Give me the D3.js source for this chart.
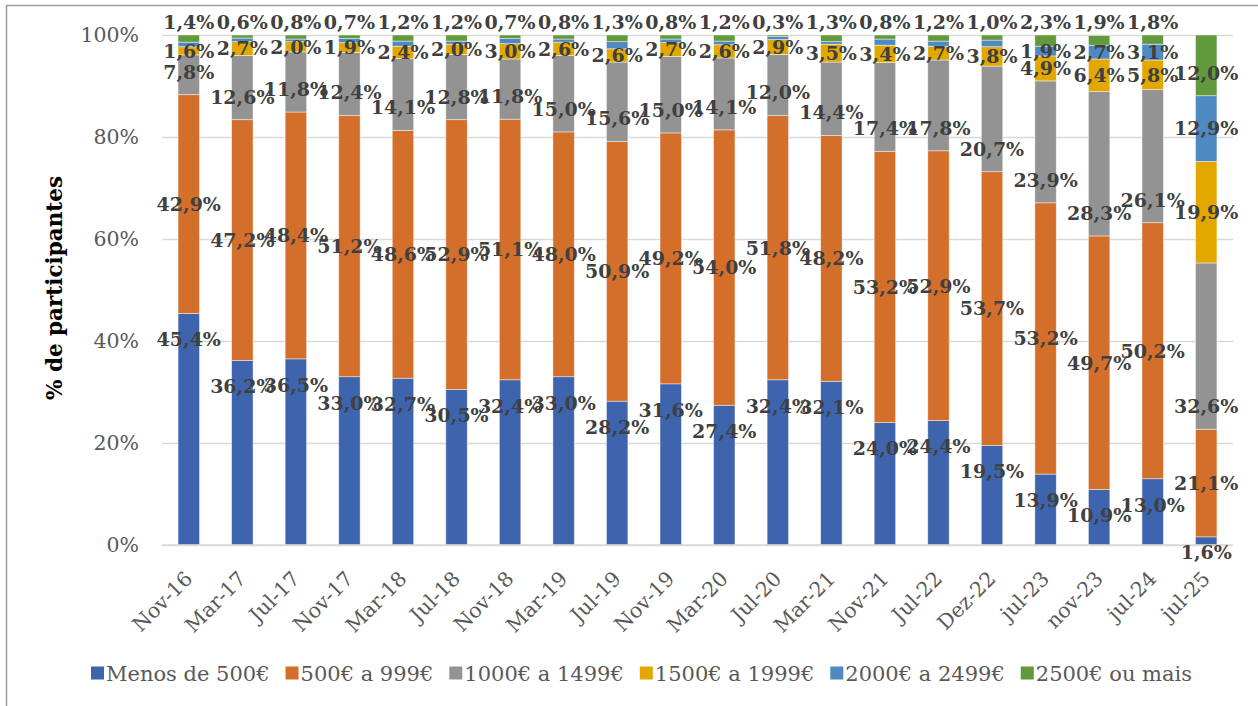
<!DOCTYPE html>
<html>
<head>
<meta charset="utf-8">
<script src="https://cdn.jsdelivr.net/npm/d3@7"></script>
<style>
  html, body { margin: 0; padding: 0; background: #fff; }
  svg { display: block; }
</style>
</head>
<body>
<svg id="chart" width="1258" height="706"></svg>
<script>
// ---- data ----
const categories = ["Nov-16","Mar-17","Jul-17","Nov-17","Mar-18","Jul-18","Nov-18","Mar-19","Jul-19","Nov-19","Mar-20","Jul-20","Mar-21","Nov-21","Jul-22","Dez-22","jul-23","nov-23","jul-24","jul-25"];
const seriesNames = ["Menos de 500€","500€ a 999€","1000€ a 1499€","1500€ a 1999€","2000€ a 2499€","2500€ ou mais"];
const menos500   = [45.4,36.2,36.5,33.0,32.7,30.5,32.4,33.0,28.2,31.6,27.4,32.4,32.1,24.0,24.4,19.5,13.9,10.9,13.0,1.6];
const de500a999  = [42.9,47.2,48.4,51.2,48.6,52.9,51.1,48.0,50.9,49.2,54.0,51.8,48.2,53.2,52.9,53.7,53.2,49.7,50.2,21.1];
const de1000a1499= [7.8,12.6,11.8,12.4,14.1,12.8,11.8,15.0,15.6,15.0,14.1,12.0,14.4,17.4,17.8,20.7,23.9,28.3,26.1,32.6];
const de1500a1999= [1.6,2.7,2.0,1.9,2.4,2.0,3.0,2.6,2.6,2.7,2.6,2.9,3.5,3.4,2.7,3.8,4.9,6.4,5.8,19.9];
const de2000a2499= [0.9,0.7,0.5,0.8,1.0,0.6,1.0,0.6,1.4,0.7,0.7,0.6,0.5,1.2,1.0,1.3,1.9,2.7,3.1,12.9];
const mais2500   = [1.4,0.6,0.8,0.7,1.2,1.2,0.7,0.8,1.3,0.8,1.2,0.3,1.3,0.8,1.2,1.0,2.3,1.9,1.8,12.0];
const yTicks = [0,20,40,60,80,100];

const seriesValues = [menos500, de500a999, de1000a1499, de1500a1999, de2000a2499, mais2500];
const colors = ["#3D64AD","#D36F2B","#939393","#E2A800","#4F89C1","#62993D"];

// ---- layout ----
const svg = d3.select("#chart");
const plot = {left: 162, right: 1233, top: 35, bottom: 545};
const serif = "'DejaVu Serif', 'Liberation Serif', serif";

// outer chart border
svg.append("rect")
  .attr("x", 6.5).attr("y", 5.5).attr("width", 1270).attr("height", 720)
  .attr("fill", "none").attr("stroke", "#9c9c9c").attr("stroke-width", 1.5);

const x = d3.scaleBand().domain(categories).range([plot.left, plot.right])
  .paddingInner(0.6).paddingOuter(0.3);
const y = d3.scaleLinear().domain([0, 100]).range([plot.bottom, plot.top]);

// table for stacking
const table = categories.map((c, i) => {
  const row = {cat: c};
  seriesNames.forEach((s, k) => row[s] = seriesValues[k][i]);
  return row;
});
const stacked = d3.stack().keys(seriesNames)(table);

// gridlines + y axis labels
const yAxis = d3.axisLeft(y).tickValues(yTicks).tickFormat(d => d + "%")
  .tickSize(-(plot.right - plot.left)).tickPadding(23);
const gy = svg.append("g").attr("transform", `translate(${plot.left},0)`).call(yAxis);
gy.select(".domain").remove();
gy.selectAll(".tick line").attr("stroke", "#D9D9D9").attr("stroke-width", 1.5);
gy.selectAll(".tick text").attr("fill", "#595959")
  .style("font-family", serif).style("font-size", "20.5px");

// bars
const layers = svg.append("g").selectAll("g").data(stacked).join("g")
  .attr("fill", (d, k) => colors[k]);
layers.selectAll("rect").data(d => d).join("rect")
  .attr("x", d => x(d.data.cat))
  .attr("width", x.bandwidth())
  .attr("y", d => y(Math.min(d[1], 100)))
  .attr("height", d => Math.max(0, y(d[0]) - y(Math.min(d[1], 100))))
  .attr("stroke", "#ffffff").attr("stroke-width", 0.8).attr("stroke-opacity", 0.55);

// x axis line
svg.append("line").attr("x1", plot.left).attr("x2", plot.right)
  .attr("y1", y(0)).attr("y2", y(0)).attr("stroke", "#D9D9D9").attr("stroke-width", 1.5);

// x tick labels
svg.append("g").selectAll("text").data(categories).join("text")
  .attr("transform", d => `translate(${x(d) + x.bandwidth()/2 + 5},${y(0) + 35}) rotate(-45)`)
  .attr("text-anchor", "end")
  .attr("fill", "#595959")
  .style("font-family", serif).style("font-size", "20.5px")
  .text(d => d);

// data labels
const fmt = v => d3.format(".1f")(v).replace(".", ",") + "%";
function labelY(k, d) {
  const top = y(Math.min(d[1], 100)), bot = y(d[0]), mid = (top + bot) / 2;
  const v = d[1] - d[0];
  if (k === 0) return Math.min(top + 26, y(0) + 7);
  if (k === 2) return bot - 23;
  if (k === 5) return v >= 5 ? mid + 8 : top - 13;
  return mid;
}
const labelG = svg.append("g");
stacked.forEach((layer, k) => {
  labelG.selectAll(null).data(layer.filter(d => !(k === 4 && (d[1] - d[0]) < 1.5))).join("text")
    .attr("x", d => x(d.data.cat) + x.bandwidth()/2)
    .attr("y", d => labelY(k, d))
    .attr("dy", "0.36em")
    .attr("text-anchor", "middle")
    .attr("fill", "#404040")
    .style("font-family", serif).style("font-size", "19px").style("font-weight", "bold")
    .text(d => fmt(d[1] - d[0]));
});

// y axis title
svg.append("text")
  .attr("transform", `translate(62,288) rotate(-90)`)
  .attr("text-anchor", "middle")
  .attr("fill", "#000")
  .style("font-family", serif).style("font-size", "21.5px").style("font-weight", "bold")
  .text("% de participantes");

// legend
const legend = svg.append("g").attr("transform", "translate(91,673)");
let lx = 0;
seriesNames.forEach((s, k) => {
  const g = legend.append("g").attr("transform", `translate(${lx},0)`);
  g.append("rect").attr("x", 0).attr("y", -6.5).attr("width", 13).attr("height", 13).attr("fill", colors[k]);
  const t = g.append("text").attr("x", 15).attr("dy", "0.36em").attr("fill", "#595959")
    .style("font-family", serif).style("font-size", "21px").text(s);
  lx += 15 + t.node().getComputedTextLength() + 16;
});
</script>
</body>
</html>
